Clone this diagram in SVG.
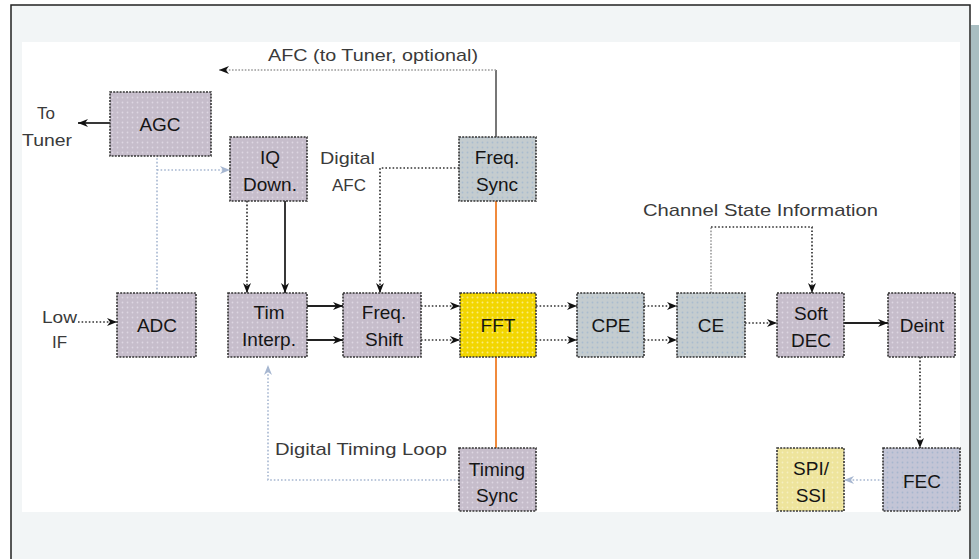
<svg xmlns="http://www.w3.org/2000/svg" width="979" height="559" viewBox="0 0 979 559">
<style>
.box{stroke:#333;stroke-width:1.6;stroke-dasharray:2 1.2}
.bl{font-family:"Liberation Sans",Arial,sans-serif;font-size:19px;fill:#151515;text-anchor:middle}
.lb{font-family:"Liberation Sans",Arial,sans-serif;font-size:17px;fill:#3a3a3a}
.solid{fill:none;stroke:#222;stroke-width:1.8}
.dot{fill:none;stroke:#333;stroke-width:1.7;stroke-dasharray:1.6 2}
.blue{fill:none;stroke:#a6b6d0;stroke-width:1.6;stroke-dasharray:1.6 2}
.gray{fill:none;stroke:#9a9a9a;stroke-width:1.6;stroke-dasharray:1.6 1.6}
</style>
<defs>
<pattern id="pL" width="5" height="5" patternUnits="userSpaceOnUse"><rect width="5" height="5" fill="#c6bdcb"/><circle cx="2.5" cy="2.5" r="0.9" fill="#ddd6e2"/></pattern>
<pattern id="pG" width="5" height="5" patternUnits="userSpaceOnUse"><rect width="5" height="5" fill="#c4cccf"/><circle cx="2.5" cy="2.5" r="0.9" fill="#a9bccf"/></pattern>
<pattern id="pY" width="5" height="5" patternUnits="userSpaceOnUse"><rect width="5" height="5" fill="#f2d600"/><circle cx="2.5" cy="2.5" r="1" fill="#fbeb7a"/></pattern>
<pattern id="pS" width="5" height="5" patternUnits="userSpaceOnUse"><rect width="5" height="5" fill="#eee49c"/><circle cx="2.5" cy="2.5" r="0.9" fill="#f6efc0"/></pattern>
<pattern id="pF" width="5" height="5" patternUnits="userSpaceOnUse"><rect width="5" height="5" fill="#c3c5d6"/><circle cx="2.5" cy="2.5" r="0.9" fill="#a7b6cf"/></pattern>
<marker id="ah" markerWidth="11" markerHeight="10" refX="10" refY="5" orient="auto" markerUnits="userSpaceOnUse"><path d="M0,1 L10,5 L0,9 L3,5 z" fill="#111"/></marker>
<marker id="ahb" markerWidth="11" markerHeight="10" refX="10" refY="5" orient="auto" markerUnits="userSpaceOnUse"><path d="M0,1 L10,5 L0,9 L3,5 z" fill="#a6b6d0"/></marker>
</defs>
<rect x="11" y="5" width="959" height="562" fill="#f2f5f6" stroke="#222" stroke-width="1.5"/>
<rect x="971" y="25" width="8" height="534" fill="#a9bec2"/>
<rect x="22" y="42" width="938" height="470" fill="#ffffff"/>

<g id="connectors">
<path d="M496,137 V70" fill="none" stroke="#555" stroke-width="1.6"/>
<path d="M496,70 H219" class="gray" marker-end="url(#ah)"/>
<path d="M110,123 H78" class="solid" marker-end="url(#ah)"/>
<path d="M157,293 V157" class="blue"/>
<path d="M157,170 H230" class="blue" marker-end="url(#ahb)"/>
<path d="M247,201 V293" class="dot" marker-end="url(#ah)"/>
<path d="M285,201 V293" class="solid" marker-end="url(#ah)"/>
<path d="M459,168 H380 V293" class="dot" marker-end="url(#ah)"/>
<path d="M496,201 V448" fill="none" stroke="#f08a3c" stroke-width="2"/>
<path d="M78,322 H117" class="dot" marker-end="url(#ah)"/>
<path d="M307,306 H343" class="solid" marker-end="url(#ah)"/>
<path d="M307,340 H343" class="solid" marker-end="url(#ah)"/>
<path d="M421,306 H460" class="dot" marker-end="url(#ah)"/>
<path d="M421,340 H460" class="dot" marker-end="url(#ah)"/>
<path d="M536,306 H577" class="dot" marker-end="url(#ah)"/>
<path d="M536,340 H577" class="dot" marker-end="url(#ah)"/>
<path d="M644,306 H677" class="dot" marker-end="url(#ah)"/>
<path d="M644,340 H677" class="dot" marker-end="url(#ah)"/>
<path d="M745,323 H777" class="dot" marker-end="url(#ah)"/>
<path d="M844,323 H888" class="solid" marker-end="url(#ah)"/>
<path d="M711,293 V227" class="gray"/>
<path d="M711,227 H812 V293" class="dot" marker-end="url(#ah)"/>
<path d="M920,357 V448" class="dot" marker-end="url(#ah)"/>
<path d="M883,480 H844" class="blue" marker-end="url(#ahb)"/>
<path d="M459,480 H268 V365" class="blue" marker-end="url(#ahb)"/>
</g>

<g id="labels">
<text class="lb" x="268" y="61" textLength="210" lengthAdjust="spacingAndGlyphs">AFC (to Tuner, optional)</text>
<text class="lb" x="37" y="119">To</text>
<text class="lb" x="22" y="146" textLength="50" lengthAdjust="spacingAndGlyphs">Tuner</text>
<text class="lb" x="320" y="164" textLength="55" lengthAdjust="spacingAndGlyphs">Digital</text>
<text class="lb" x="332" y="191">AFC</text>
<text class="lb" x="42" y="323" textLength="35" lengthAdjust="spacingAndGlyphs">Low</text>
<text class="lb" x="52" y="348">IF</text>
<text class="lb" x="643" y="216" textLength="235" lengthAdjust="spacingAndGlyphs">Channel State Information</text>
<text class="lb" x="275" y="455" textLength="172" lengthAdjust="spacingAndGlyphs">Digital Timing Loop</text>
</g>

<g id="agc"><rect class="box" x="110" y="92" width="101" height="64" fill="url(#pL)"/><text class="bl" x="160" y="131">AGC</text></g>
<g id="iq-down"><rect class="box" x="230" y="137" width="77" height="64" fill="url(#pL)"/><text class="bl" x="270" y="164">IQ</text><text class="bl" x="270" y="191">Down.</text></g>
<g id="freq-sync"><rect class="box" x="459" y="137" width="77" height="64" fill="url(#pG)"/><text class="bl" x="497" y="164">Freq.</text><text class="bl" x="497" y="191">Sync</text></g>
<g id="adc"><rect class="box" x="117" y="293" width="79" height="64" fill="url(#pL)"/><text class="bl" x="157" y="332">ADC</text></g>
<g id="tim-interp"><rect class="box" x="228" y="293" width="79" height="64" fill="url(#pL)"/><text class="bl" x="269" y="319">Tim</text><text class="bl" x="269" y="346">Interp.</text></g>
<g id="freq-shift"><rect class="box" x="343" y="293" width="78" height="64" fill="url(#pL)"/><text class="bl" x="384" y="319">Freq.</text><text class="bl" x="384" y="346">Shift</text></g>
<g id="fft"><rect class="box" x="460" y="293" width="76" height="64" fill="url(#pY)"/><text class="bl" x="498" y="332">FFT</text></g>
<g id="cpe"><rect class="box" x="577" y="293" width="67" height="64" fill="url(#pG)"/><text class="bl" x="611" y="332">CPE</text></g>
<g id="ce"><rect class="box" x="677" y="293" width="68" height="64" fill="url(#pG)"/><text class="bl" x="711" y="332">CE</text></g>
<g id="soft-dec"><rect class="box" x="777" y="293" width="67" height="64" fill="url(#pL)"/><text class="bl" x="811" y="320">Soft</text><text class="bl" x="811" y="347">DEC</text></g>
<g id="deint"><rect class="box" x="888" y="293" width="67" height="64" fill="url(#pL)"/><text class="bl" x="922" y="332">Deint</text></g>
<g id="timing-sync"><rect class="box" x="459" y="448" width="77" height="63" fill="url(#pL)"/><text class="bl" x="497" y="476">Timing</text><text class="bl" x="497" y="502">Sync</text></g>
<g id="spi-ssi"><rect class="box" x="777" y="448" width="67" height="63" fill="url(#pS)"/><text class="bl" x="811" y="475">SPI/</text><text class="bl" x="811" y="502">SSI</text></g>
<g id="fec"><rect class="box" x="883" y="448" width="77" height="63" fill="url(#pF)"/><text class="bl" x="922" y="488">FEC</text></g>
</svg>
